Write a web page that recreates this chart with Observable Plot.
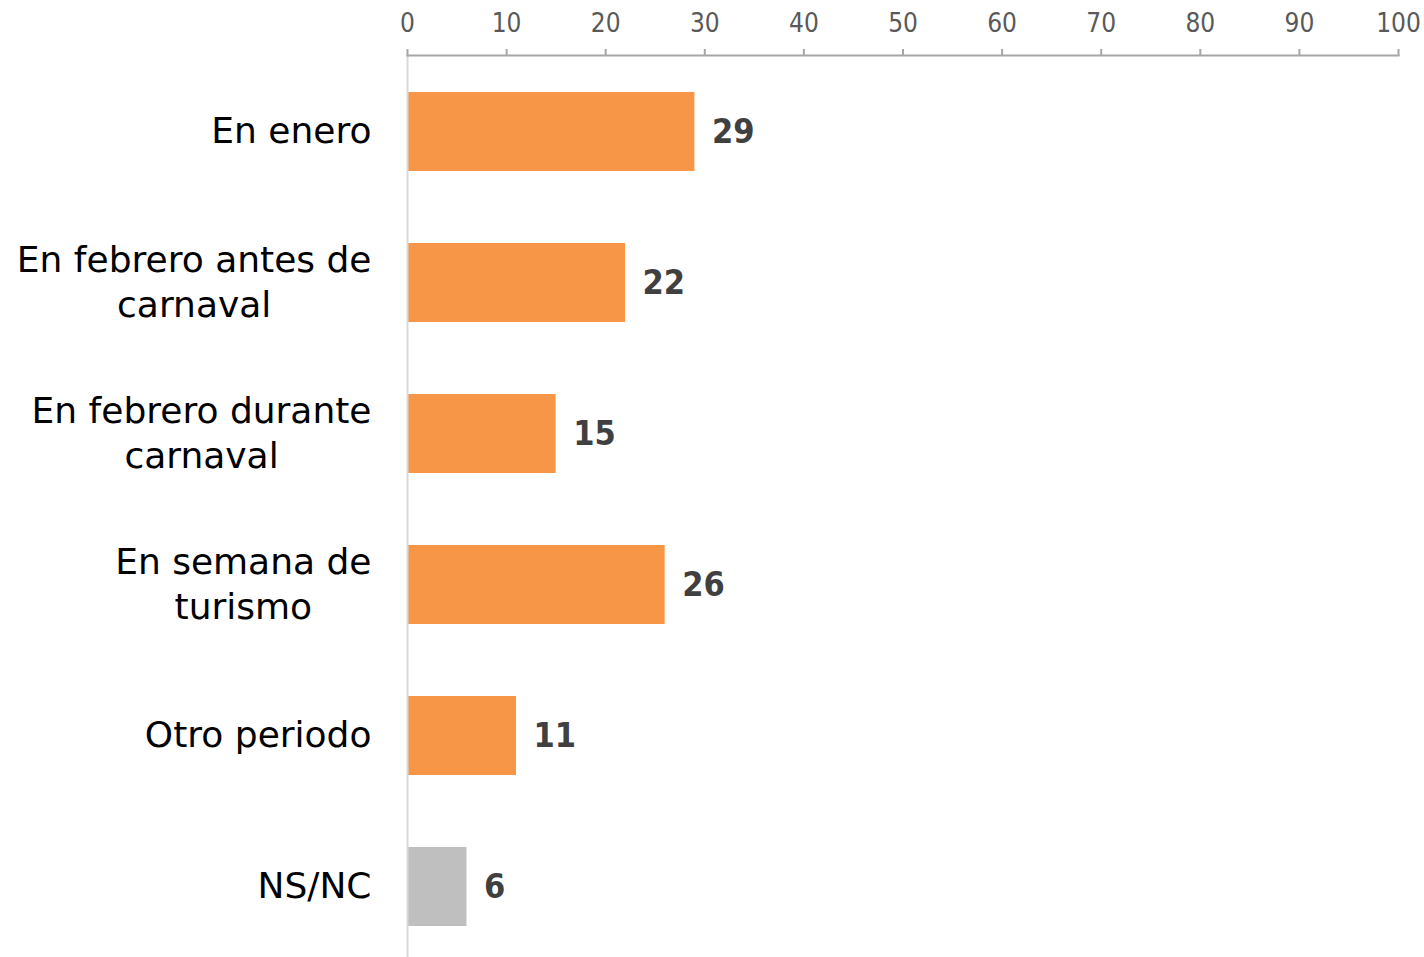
<!DOCTYPE html>
<html>
<head>
<meta charset="utf-8">
<script src="https://cdn.jsdelivr.net/npm/d3@7"></script>
<script src="https://cdn.jsdelivr.net/npm/@observablehq/plot@0.6"></script>
<style>
  html, body { margin: 0; padding: 0; background: #fff; }
  #chart svg { display: block; }
</style>
</head>
<body>
<div id="chart"></div>
<script>
const categories = [
  "En enero",
  "En febrero antes de\ncarnaval",
  "En febrero durante\ncarnaval",
  "En semana de\nturismo",
  "Otro periodo",
  "NS/NC"
];
const values = [29, 22, 15, 26, 11, 6];
const xTicks = [0, 10, 20, 30, 40, 50, 60, 70, 80, 90, 100];

const data = categories.map((c, i) => ({cat: c, value: values[i]}));
const FONT = "'DejaVu Sans Condensed', 'DejaVu Sans', sans-serif";

const chart = Plot.plot({
  width: 1424,
  height: 957,
  marginTop: 55,
  marginBottom: 0,
  marginLeft: 407,
  marginRight: 26,
  style: {fontFamily: FONT, background: "#fff"},
  x: {domain: [0, 100], axis: null, label: null},
  y: {domain: categories, range: [55, 963], paddingInner: 0.477, paddingOuter: 0.245, axis: null, label: null},
  marks: [
    Plot.barX(data, {
      x: "value", y: "cat",
      fill: d => d.cat === "NS/NC" ? "#bfbfbf" : "#f79646",
      inset: 0, insetLeft: 1
    }),
    Plot.ruleX([0], {stroke: "#d9d9d9", strokeWidth: 2}),
    Plot.frame({anchor: "top", stroke: "#a6a6a6", strokeWidth: 2}),
    Plot.axisX({
      anchor: "top", ticks: xTicks, tickSize: 7, tickPadding: 17, label: null,
      stroke: "#a6a6a6", strokeWidth: 2, strokeOpacity: 1,
      fill: "#595959", fontSize: 26, tickFormat: d => String(d)
    }),
    Plot.axisY({
      anchor: "left", tickSize: 0, tickPadding: 36, label: null, dy: -3,
      fill: "#000", fontSize: 36, lineHeight: 1.25, textAnchor: "end",
      fontFamily: "'DejaVu Sans', sans-serif"
    }),
    Plot.text(data, {
      x: "value", y: "cat", text: d => String(d.value),
      dx: 17, textAnchor: "start", fontWeight: "bold",
      fill: "#404040", fontSize: 34
    })
  ]
});

document.getElementById("chart").appendChild(chart);

// Center the lines of each multi-line category label within its block,
// keeping the block right-aligned to the tick padding edge.
chart.querySelectorAll("text").forEach(t => {
  const spans = t.querySelectorAll("tspan");
  if (spans.length < 2) return;
  let maxW = 0;
  spans.forEach(s => { maxW = Math.max(maxW, s.getComputedTextLength()); });
  const base = parseFloat(spans[0].getAttribute("x") || "0") || 0;
  t.setAttribute("text-anchor", "middle");
  spans.forEach(s => s.setAttribute("x", String(base - maxW / 2)));
});
</script>
</body>
</html>
